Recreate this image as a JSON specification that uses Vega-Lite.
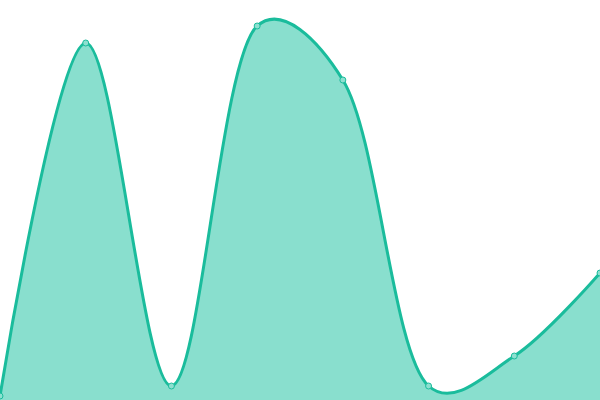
{
  "$schema": "https://vega.github.io/schema/vega-lite/v6.json",
  "width": 600,
  "height": 400,
  "autosize": "none",
  "padding": 0,
  "config": {"view": {"stroke": null}},
  "data": {
    "values": [
      {"x": 0, "y": 4},
      {"x": 1, "y": 357},
      {"x": 2, "y": 14},
      {"x": 3, "y": 374},
      {"x": 4, "y": 320},
      {"x": 5, "y": 14},
      {"x": 6, "y": 44},
      {"x": 7, "y": 127}
    ]
  },
  "encoding": {
    "x": {"field": "x", "type": "quantitative", "axis": null, "scale": {"domain": [0, 7], "nice": false, "zero": false}},
    "y": {"field": "y", "type": "quantitative", "axis": null, "scale": {"domain": [0, 400], "nice": false}}
  },
  "layer": [
    {
      "mark": {"type": "area", "interpolate": "catmull-rom", "tension": 0.3, "fill": "#89dfce", "opacity": 1}
    },
    {
      "mark": {"type": "line", "interpolate": "catmull-rom", "tension": 0.3, "color": "#1abc9c", "strokeWidth": 3}
    },
    {
      "mark": {"type": "point", "filled": true, "size": 36, "fill": "#8de0d0", "stroke": "#1abc9c", "strokeWidth": 1, "opacity": 1}
    }
  ]
}
